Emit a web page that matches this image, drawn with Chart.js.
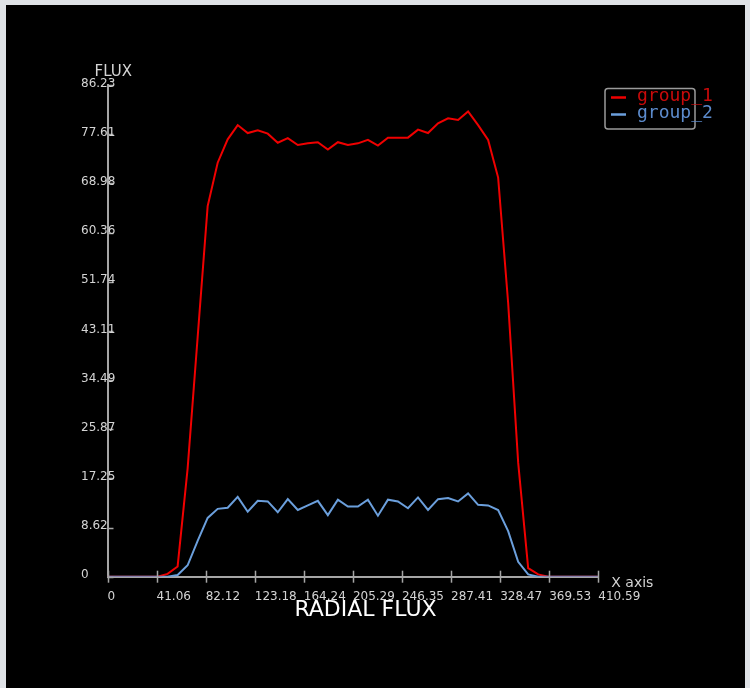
<!DOCTYPE html>
<html>
<head>
<meta charset="utf-8">
<title>Radial flux</title>
<script src="https://cdn.jsdelivr.net/npm/chart.js"></script>
<style>
  html, body { margin: 0; padding: 0; }
  body { width: 750px; height: 688px; background: #dfe2e6; position: relative; overflow: hidden; }
  #wrap { position: absolute; left: 6px; top: 5px; width: 739px; height: 683px; background: #000; }
</style>
</head>
<body>
<div id="wrap"><canvas id="fluxChart" width="739" height="683"></canvas></div>
<script>
// radial positions of the samples
const radius = [0, 8.38, 16.76, 25.14, 33.52, 41.90, 50.28, 58.66, 67.04, 75.41,
  83.79, 92.17, 100.55, 108.93, 117.31, 125.69, 134.07, 142.45, 150.83, 159.21,
  167.59, 175.97, 184.35, 192.73, 201.11, 209.48, 217.86, 226.24, 234.62, 243.00,
  251.38, 259.76, 268.14, 276.52, 284.90, 293.28, 301.66, 310.04, 318.42, 326.80,
  335.18, 343.56, 351.93, 360.31, 368.69, 377.07, 385.45, 393.83, 402.21, 410.59];

const group1 = [0, 0, 0, 0, 0, 0, 0.5, 1.8, 19, 42,
  65, 72.6, 76.7, 79.2, 77.8, 78.3, 77.7, 76.1, 76.9, 75.7,
  76.0, 76.2, 74.9, 76.2, 75.7, 76.0, 76.6, 75.6, 77.0, 77.0,
  77.0, 78.4, 77.8, 79.5, 80.4, 80.1, 81.6, 79.2, 76.6, 70.0,
  48, 20, 1.5, 0.4, 0, 0, 0, 0, 0, 0];

const group2 = [0, 0, 0, 0, 0, 0, 0, 0.3, 2.0, 6.3,
  10.3, 11.9, 12.1, 14.0, 11.4, 13.3, 13.2, 11.3, 13.6, 11.7,
  12.5, 13.3, 10.8, 13.5, 12.3, 12.3, 13.5, 10.7, 13.5, 13.2,
  12.0, 13.9, 11.7, 13.6, 13.8, 13.2, 14.6, 12.6, 12.5, 11.7,
  8.0, 2.6, 0.4, 0, 0, 0, 0, 0, 0, 0];

const xTickValues = [0, 41.06, 82.12, 123.18, 164.24, 205.29, 246.35, 287.41, 328.47, 369.53, 410.59];
const xTickLabels = ['0', '41.06', '82.12', '123.18', '164.24', '205.29', '246.35', '287.41', '328.47', '369.53', '410.59'];
const yTickValues = [0, 8.62, 17.25, 25.87, 34.49, 43.11, 51.74, 60.36, 68.98, 77.61, 86.23];
const yTickLabels = ['0', '8.62', '17.25', '25.87', '34.49', '43.11', '51.74', '60.36', '68.98', '77.61', '86.23'];

const seriesNames = ['group_1', 'group_2'];
const lineColors = ['#f00000', '#6b9fdc'];
const legendTextColors = ['#c80a0a', '#5c8bcc'];

const axisGray = '#a6a6a6';
const labelGray = '#d4d4d4';

function toPoints(vals) {
  return vals.map((v, i) => ({ x: radius[i], y: v }));
}

// black background, tick marks, y labels (left aligned, they run over the axis), titles, legend
const decorations = {
  id: 'decorations',
  beforeDraw(chart) {
    const c = chart.ctx;
    c.save();
    c.fillStyle = '#000';
    c.fillRect(0, 0, chart.width, chart.height);
    c.restore();
  },
  afterDatasetsDraw(chart) {
    const c = chart.ctx;
    const area = chart.chartArea;
    const xs = chart.scales.x, ys = chart.scales.y;
    c.save();
    c.strokeStyle = axisGray;
    c.lineWidth = 1.5;
    xTickValues.forEach(v => {
      const px = Math.round(xs.getPixelForValue(v)) + 0.5;
      c.beginPath();
      c.moveTo(px, area.bottom - 6);
      c.lineTo(px, area.bottom + 6);
      c.stroke();
    });
    yTickValues.forEach(v => {
      const py = Math.round(ys.getPixelForValue(v)) + 0.5;
      c.beginPath();
      c.moveTo(area.left, py);
      c.lineTo(area.left + 6, py);
      c.stroke();
    });

    c.fillStyle = labelGray;
    c.textBaseline = 'middle';
    c.textAlign = 'left';
    c.font = '12px "DejaVu Sans"';
    yTickValues.forEach((v, i) => {
      c.fillText(yTickLabels[i], area.left - 26.5, ys.getPixelForValue(v) - 1.5);
    });

    c.font = '15px "DejaVu Sans"';
    c.fillText('FLUX', area.left - 13, area.top - 13);
    c.font = '14px "DejaVu Sans"';
    c.fillText('X axis', area.right + 13, area.bottom + 7);

    c.fillStyle = '#ffffff';
    c.textAlign = 'center';
    c.font = '22px "DejaVu Sans"';
    c.fillText('RADIAL FLUX', 359.5, 605);

    // legend
    const bx = 599, by = 83.5, bw = 90, bh = 40.5;
    c.strokeStyle = '#9a9a9a';
    c.lineWidth = 1.5;
    c.beginPath();
    c.roundRect(bx, by, bw, bh, 3);
    c.stroke();
    c.font = '18px "DejaVu Sans Mono"';
    c.textAlign = 'left';
    seriesNames.forEach((name, i) => {
      const y = 92.5 + i * 17;
      c.strokeStyle = lineColors[i];
      c.lineWidth = 2.5;
      c.beginPath();
      c.moveTo(605, y);
      c.lineTo(620, y);
      c.stroke();
      c.fillStyle = legendTextColors[i];
      c.fillText(name, 631, y - 1);
    });
    c.restore();
  }
};

new Chart(document.getElementById('fluxChart'), {
  type: 'line',
  data: {
    datasets: [
      { label: seriesNames[0], data: toPoints(group1), borderColor: lineColors[0], borderWidth: 2, pointRadius: 0, tension: 0, order: 1 },
      { label: seriesNames[1], data: toPoints(group2), borderColor: lineColors[1], borderWidth: 2, pointRadius: 0, tension: 0, order: 0 }
    ]
  },
  options: {
    responsive: false,
    animation: false,
    layout: { padding: { left: 0, right: 146.7, top: 80, bottom: 71.3 } },
    plugins: {
      legend: { display: false },
      tooltip: { enabled: false }
    },
    scales: {
      x: {
        type: 'linear',
        min: 0,
        max: 410.59,
        afterBuildTicks: s => { s.ticks = xTickValues.map(v => ({ value: v })); },
        afterFit: s => { s.height = 40; },
        grid: { drawOnChartArea: false, drawTicks: false },
        border: { display: true, color: axisGray, width: 2 },
        ticks: {
          align: 'start',
          padding: 13,
          color: labelGray,
          font: { family: 'DejaVu Sans', size: 12 },
          maxRotation: 0,
          autoSkip: false,
          callback: (v, i) => xTickLabels[i]
        }
      },
      y: {
        min: 0,
        max: 86.23,
        afterBuildTicks: s => { s.ticks = yTickValues.map(v => ({ value: v })); },
        afterFit: s => { s.width = 101.5; },
        grid: { drawOnChartArea: false, drawTicks: false },
        border: { display: true, color: axisGray, width: 2 },
        ticks: { display: false }
      }
    }
  },
  plugins: [decorations]
});
</script>
</body>
</html>
